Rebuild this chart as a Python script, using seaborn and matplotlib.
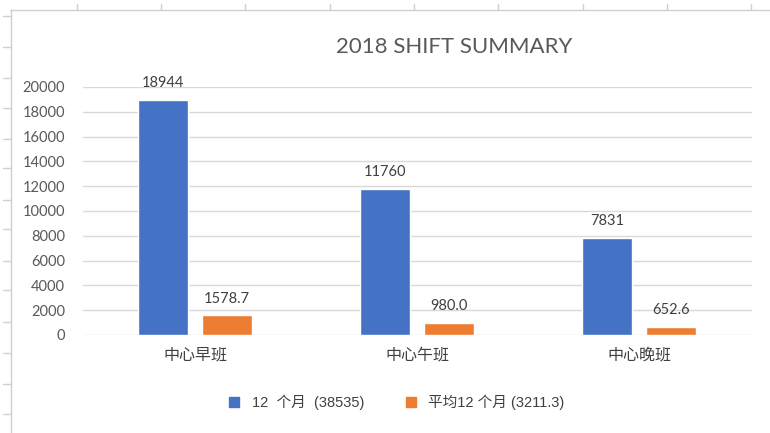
import matplotlib
matplotlib.use("Agg")
import matplotlib.pyplot as plt
from matplotlib.lines import Line2D
import seaborn as sns
import pandas as pd

categories = ["中心早班", "中心午班", "中心晚班"]
series_names = ["12  个月  (38535)", "平均12 个月 (3211.3)"]
totals = [18944, 11760, 7831]
averages = [1578.7, 980.0, 652.6]
yticks = [0, 2000, 4000, 6000, 8000, 10000, 12000, 14000, 16000, 18000, 20000]

df = pd.DataFrame({
    "cat": categories * 2,
    "series": [series_names[0]] * 3 + [series_names[1]] * 3,
    "value": totals + averages,
})

sns.set_theme(style="white")
plt.rcParams["font.family"] = ["Lato", "Noto Sans CJK SC", "DejaVu Sans"]

W, H = 770, 433
fig = plt.figure(figsize=(W / 100, H / 100), dpi=100)
ax = fig.add_axes([83 / W, (H - 335) / H, 669 / W, 248 / H])

palette = {series_names[0]: "#4472C4", series_names[1]: "#ED7D31"}
sns.barplot(data=df, x="cat", y="value", hue="series", palette=palette,
            width=0.577, gap=0.22, ax=ax, legend=False, saturation=1)

ax.set_ylim(0, 20000)
ax.set_xlim(-0.505, 2.509)
ax.set_yticks(yticks)
ax.set_yticklabels([str(v) for v in yticks], fontsize=10.5, color="#595959")
ax.yaxis.grid(True, color="#D9D9D9", linewidth=1)
ax.set_axisbelow(True)
for s in ax.spines.values():
    s.set_visible(False)
ax.tick_params(axis="y", length=0, pad=13)
ax.tick_params(axis="x", length=0, pad=9)
ax.set_xticks(range(len(categories)))
ax.set_xticklabels(categories, fontsize=11.5, color="#404040")
ax.set_xlabel("")
ax.set_ylabel("")

for i, cont in enumerate(ax.containers):
    fmt = "{:.0f}" if i == 0 else "{:.1f}"
    ax.bar_label(cont, labels=[fmt.format(v) for v in cont.datavalues],
                 padding=7, fontsize=10.5, color="#404040", clip_on=False)

fig.text(454 / W, 1 - 47 / H, "2018 SHIFT SUMMARY", ha="center", va="center",
         fontsize=16, color="#595959")

handles = [Line2D([0], [0], marker="s", linestyle="", markersize=7,
                  markerfacecolor=palette[n], markeredgecolor=palette[n]) for n in series_names]
leg = fig.legend(handles, series_names, loc="center", bbox_to_anchor=(392 / W, 1 - 402 / H),
                 ncol=2, frameon=False, handletextpad=0.2, columnspacing=2.2,
                 prop={"family": ["Liberation Sans", "Noto Sans CJK SC"], "size": 10.5})
for t in leg.get_texts():
    t.set_color("#404040")

# spreadsheet background lines
gc = "#D0D0D0"
fig.add_artist(Line2D([10 / W, 1], [1 - 10 / H, 1 - 10 / H], color=gc, linewidth=1, transform=fig.transFigure))
fig.add_artist(Line2D([11 / W, 11 / W], [0, 1 - 10 / H], color=gc, linewidth=1, transform=fig.transFigure))
for x in [77, 161, 245, 330, 414, 498, 583, 667, 751]:
    fig.add_artist(Line2D([x / W, x / W], [1 - 4 / H, 1 - 10 / H], color=gc, linewidth=1, transform=fig.transFigure))
for y in [16, 47, 78, 108, 139, 168, 200, 229, 261, 290, 322, 353, 384, 414]:
    fig.add_artist(Line2D([3 / W, 11 / W], [1 - y / H, 1 - y / H], color=gc, linewidth=1, transform=fig.transFigure))

fig.savefig("out.png", dpi=100)
